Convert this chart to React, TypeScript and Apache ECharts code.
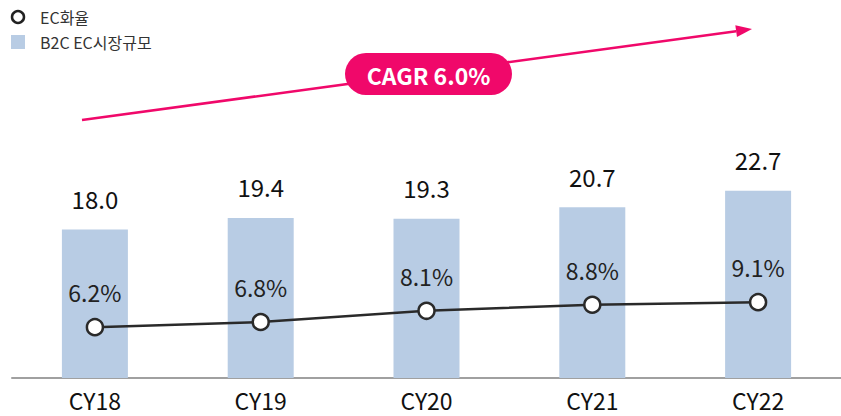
import React, { useEffect, useRef } from "react";
import * as echarts from "echarts";

const categories = ["CY18", "CY19", "CY20", "CY21", "CY22"];
const marketSize = [18.0, 19.4, 19.3, 20.7, 22.7];
const ecRate = [6.2, 6.8, 8.1, 8.8, 9.1];
const legendNames = ["EC화율", "B2C EC시장규모"];
const cagrText = "CAGR 6.0%";

const FONT = "'Noto Sans CJK KR', 'Noto Sans', sans-serif";
const PINK = "#f0086a";
const BAR = "#b8cce4";

export default function App() {
  const ref = useRef<HTMLDivElement>(null);
  useEffect(() => {
    if (!ref.current) return;
    const chart = echarts.init(ref.current, undefined, { renderer: "svg" });
    const tip = [752, 29];
    const sx = 82, sy = 120;
    const dx = tip[0] - sx, dy = tip[1] - sy;
    const len = Math.sqrt(dx * dx + dy * dy);
    const ux = dx / len, uy = dy / len;
    const nx = -uy, ny = ux;
    const hl = 16, hw = 6;
    const bx = tip[0] - hl * ux, by = tip[1] - hl * uy;
    chart.setOption({
      animation: false,
      textStyle: { fontFamily: FONT },
      grid: { left: 12, right: -3, top: 48, bottom: 38, containLabel: false },
      xAxis: {
        type: "category",
        data: categories,
        axisTick: { show: false },
        axisLine: { lineStyle: { color: "#a0a0a0", width: 2 } },
        axisLabel: { color: "#111", fontSize: 23, lineHeight: 22, fontFamily: FONT, margin: 11 },
      },
      yAxis: [
        { type: "value", min: 0, max: 40, show: false },
        { type: "value", min: 0.3, max: 38.6, show: false },
      ],
      series: [
        {
          name: legendNames[1],
          type: "bar",
          data: marketSize,
          barWidth: 66,
          itemStyle: { color: BAR },
          label: {
            show: true,
            position: "top",
            distance: 19,
            color: "#111",
            fontSize: 24,
            fontFamily: FONT,
            formatter: (p: any) => p.value.toFixed(1),
          },
          z: 1,
        },
        {
          name: legendNames[0],
          type: "line",
          yAxisIndex: 1,
          data: ecRate,
          symbol: "circle",
          symbolSize: 16,
          lineStyle: { color: "#2a2a2a", width: 2.5 },
          itemStyle: { color: "#fff", borderColor: "#2a2a2a", borderWidth: 2.5 },
          label: {
            show: true,
            position: "top",
            distance: 14,
            color: "#222",
            fontSize: 23,
            fontFamily: FONT,
            formatter: (p: any) => p.value.toFixed(1) + "%",
          },
          z: 3,
        },
      ],
      graphic: [
        { type: "circle", shape: { cx: 18, cy: 17, r: 6 }, style: { fill: "#fff", stroke: "#222", lineWidth: 2.5 } },
        { type: "text", x: 40, y: 17, style: { text: legendNames[0], fill: "#333", fontSize: 16, fontFamily: FONT, verticalAlign: "middle" } },
        { type: "rect", shape: { x: 11, y: 35, width: 14, height: 14 }, style: { fill: BAR } },
        { type: "text", x: 40, y: 42, style: { text: legendNames[1], fill: "#333", fontSize: 16, fontFamily: FONT, verticalAlign: "middle" } },
        { type: "line", shape: { x1: sx, y1: sy, x2: bx, y2: by }, style: { stroke: PINK, lineWidth: 2.5 }, z: 10 },
        {
          type: "polygon",
          shape: { points: [[tip[0], tip[1]], [bx + hw * nx, by + hw * ny], [bx - hw * nx, by - hw * ny]] },
          style: { fill: PINK },
          z: 10,
        },
        { type: "rect", shape: { x: 345, y: 53, width: 167, height: 42, r: 21 }, style: { fill: PINK }, z: 11 },
        {
          type: "text", x: 428.5, y: 75, z: 12,
          style: { text: cagrText, fill: "#fff", fontSize: 23, fontWeight: "bold", fontFamily: FONT, align: "center", verticalAlign: "middle" },
        },
      ],
    });
    return () => chart.dispose();
  }, []);
  return <div ref={ref} style={{ width: 841, height: 416, position: "absolute", left: 0, top: 0 }} />;
}
